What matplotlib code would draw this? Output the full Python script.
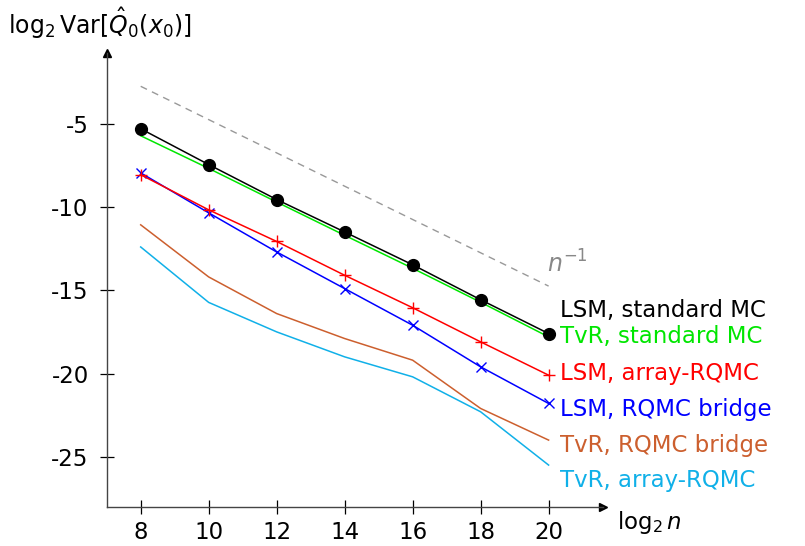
import matplotlib

matplotlib.use("Agg")

import matplotlib.pyplot as plt

# data
LOG2_N = [8, 10, 12, 14, 16, 18, 20]
LSM_MC = [-5.3, -7.45, -9.55, -11.5, -13.47, -15.57, -17.6]
TVR_MC = [-5.72, -7.68, -9.7, -11.7, -13.68, -15.72, -17.8]
LSM_ARRAY = [-8.06, -10.17, -12.07, -14.1, -16.05, -18.1, -20.1]
LSM_BRIDGE = [-7.95, -10.35, -12.7, -14.9, -17.1, -19.6, -21.8]
TVR_BRIDGE = [-11.07, -14.2, -16.4, -17.9, -19.2, -22.1, -24.0]
TVR_ARRAY = [-12.4, -15.73, -17.5, -19.0, -20.2, -22.3, -25.5]
REF_X = [8, 20]
REF_Y = [-2.75, -14.75]

Y_TICKS = [-5, -10, -15, -20, -25]
Y_TICK_LABELS = ["-5", "-10", "-15", "-20", "-25"]

LABELS = [
    ("LSM, standard MC", "black", -16.2),
    ("TvR, standard MC", "#00e600", -17.75),
    ("LSM, array-RQMC", "#ff0000", -20.0),
    ("LSM, RQMC bridge", "#0000ff", -22.15),
    ("TvR, RQMC bridge", "#cc5f2e", -24.3),
    ("TvR, array-RQMC", "#10b0e8", -26.4),
]

plt.rcParams["font.family"] = "DejaVu Sans"
plt.rcParams["mathtext.fontset"] = "dejavusans"
plt.rcParams["font.size"] = 16

fig = plt.figure(figsize=(8.05, 5.46), dpi=100)
ax = fig.add_axes([106.7 / 805, 39.3 / 546, (603 - 106.7) / 805, (506.7 - 53) / 546])

ax.plot(REF_X, REF_Y, color="#999999", lw=1.0, ls=(0, (5, 4)))
ax.plot(LOG2_N, TVR_ARRAY, color="#10b0e8", lw=1.1)
ax.plot(LOG2_N, TVR_BRIDGE, color="#cc5f2e", lw=1.1)
ax.plot(LOG2_N, LSM_BRIDGE, color="#0000ff", lw=1.1, marker="x", ms=7, mew=1.0)
ax.plot(LOG2_N, LSM_ARRAY, color="#ff0000", lw=1.1, marker="+", ms=9, mew=1.0)
ax.plot(LOG2_N, TVR_MC, color="#00e600", lw=1.1)
ax.plot(LOG2_N, LSM_MC, color="black", lw=1.1, marker="o", ms=8.5)

for text, color, y in LABELS:
    ax.text(20.33, y, text, color=color, ha="left", va="center", fontsize=16.5)
ax.text(20.55, -13.4, "$n^{-1}$", color="#888888", ha="center", va="center", fontsize=17)

ax.set_xlim(7.0, 21.6)
ax.set_ylim(-28.0, -0.75)
ax.set_xticks(LOG2_N)
ax.set_yticks(Y_TICKS)
ax.set_yticklabels(Y_TICK_LABELS)

for side in ["top", "right"]:
    ax.spines[side].set_visible(False)
for side in ["left", "bottom"]:
    ax.spines[side].set_color("#444444")
    ax.spines[side].set_linewidth(1.0)
ax.tick_params(direction="inout", length=10, width=0.9, color="black", labelsize=16.5)
ax.tick_params(axis="x", pad=5)
ax.tick_params(axis="y", pad=8)

ax.plot(1, 0, marker=">", color="black", ms=6, transform=ax.transAxes, clip_on=False)
ax.plot(0, 1, marker="^", color="black", ms=6, transform=ax.transAxes, clip_on=False)

fig.text(8 / 805, 1 - 23 / 546, r"log$_2\,\mathrm{Var}[\hat{Q}_0(x_0)]$", ha="left", va="center", fontsize=17)
fig.text(617 / 805, 1 - 522 / 546, r"log$_2\,n$", ha="left", va="center", fontsize=16.5)

fig.savefig("out.png", dpi=100)
